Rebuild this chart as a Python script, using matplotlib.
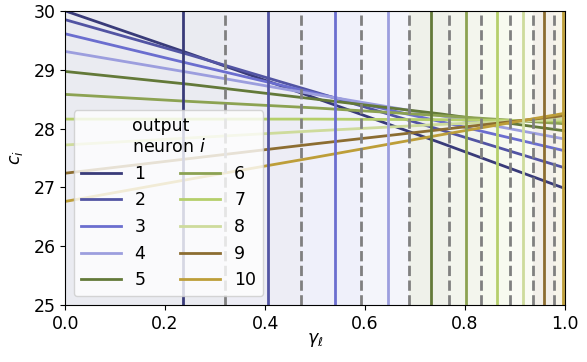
import numpy as np
import matplotlib
matplotlib.use("Agg")
import matplotlib.pyplot as plt

gamma = [0.0, 0.25, 0.5, 0.75, 1.0]

# c_i for each output neuron
c1 = [30.00, 29.27, 28.52, 27.76, 26.98]
c2 = [29.85, 29.25, 28.62, 27.98, 27.33]
c3 = [29.61, 29.10, 28.60, 28.12, 27.62]
c4 = [29.31, 28.95, 28.58, 28.22, 27.82]
c5 = [28.97, 28.75, 28.50, 28.25, 27.96]
c6 = [28.58, 28.46, 28.35, 28.22, 28.08]
c7 = [28.16, 28.16, 28.16, 28.15, 28.13]
c8 = [27.72, 27.84, 27.96, 28.07, 28.16]
c9 = [27.24, 27.49, 27.74, 27.98, 28.22]
c10 = [26.76, 27.14, 27.51, 27.89, 28.26]
curves = [c1, c2, c3, c4, c5, c6, c7, c8, c9, c10]
labels = ["1", "2", "3", "4", "5", "6", "7", "8", "9", "10"]

# per-neuron layer positions (solid) and the midpoints between them (dashed)
solid_pos = [0.235, 0.406, 0.539, 0.645, 0.731, 0.802, 0.863, 0.915, 0.959, 0.996]
dashed_pos = [0.320, 0.472, 0.592, 0.688, 0.767, 0.832, 0.889, 0.937, 0.978]

cmap = plt.get_cmap("tab20b")
colors = [cmap(i) for i in range(10)]

fs = 12.5
fig = plt.figure(figsize=(5.87, 3.62), dpi=100)
ax = fig.add_axes([0.111, 0.1575, 0.8515, 0.8125])

# shaded regions, one per neuron
edges = [0.0] + dashed_pos + [1.0]
for i in range(10):
    ax.axvspan(edges[i], edges[i + 1], color=colors[i], alpha=0.1, lw=0)

for i in range(10):
    ax.plot(gamma, curves[i], color=colors[i], lw=2, label=labels[i])

for i, xv in enumerate(solid_pos):
    ax.axvline(xv, color=colors[i], lw=2)
for xv in dashed_pos:
    ax.axvline(xv, color="gray", lw=2, ls="--")

ax.set_xlim(0, 1)
ax.set_ylim(25, 30)
ax.set_xticks([0.0, 0.2, 0.4, 0.6, 0.8, 1.0])
ax.set_yticks([25, 26, 27, 28, 29, 30])
ax.tick_params(labelsize=fs)
ax.set_xlabel(r"$\gamma_\ell$", fontsize=fs, labelpad=-1)
ax.set_ylabel(r"$c_i$", fontsize=fs, labelpad=6)

leg = ax.legend(ncol=2, loc="lower left", fontsize=fs, handlelength=2.3,
                title="output\nneuron $i$", title_fontsize=fs)

plt.savefig("out.png", dpi=100)
